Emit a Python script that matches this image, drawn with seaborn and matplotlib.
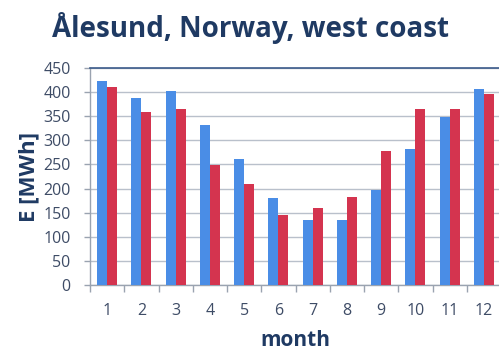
import numpy as np
import pandas as pd
import matplotlib
matplotlib.use("Agg")
import matplotlib.pyplot as plt
import seaborn as sns

months = ["1", "2", "3", "4", "5", "6", "7", "8", "9", "10", "11", "12"]
energy_blue = [424, 387, 403, 331, 261, 180, 135, 135, 197, 281, 349, 406]
energy_red = [410, 358, 366, 249, 209, 145, 159, 183, 278, 366, 365, 397]
yticks = [0, 50, 100, 150, 200, 250, 300, 350, 400, 450]

df = pd.DataFrame({
    "month": months * 2,
    "E": energy_blue + energy_red,
    "series": ["blue"] * 12 + ["red"] * 12,
})

sns.set_theme(style="white")
plt.rcParams["font.family"] = ["Open Sans", "DejaVu Sans"]

navy = "#1F3A63"
tick_col = "#3E4C66"

fig = plt.figure(figsize=(4.99, 3.53), dpi=100)
ax = fig.add_axes([90 / 499, 1 - 285 / 353, 411 / 499, 217 / 353])

sns.barplot(data=df, x="month", y="E", hue="series", order=months,
            palette={"blue": "#4A8DE6", "red": "#D4344F"},
            width=0.58, saturation=1, ax=ax, legend=False, zorder=3,
            linewidth=0, edgecolor="none")

ax.set_xlim(-0.5, 11.5)
ax.set_ylim(0, 450)
ax.set_yticks(yticks)
ax.yaxis.grid(True, color="#B9C0CB", linewidth=1, zorder=0)
ax.set_axisbelow(True)

ax.set_xticks(np.arange(-0.5, 12, 1), minor=True)
ax.tick_params(axis="x", which="major", length=0, pad=13,
               labelsize=11.5, labelcolor=tick_col)
ax.tick_params(axis="x", which="minor", length=5, width=1,
               color="#9AA3B0", direction="out", bottom=True)
ax.tick_params(axis="y", which="major", length=4, width=1,
               color="#9AA3B0", direction="out", left=True, pad=10,
               labelsize=11.5, labelcolor=tick_col)

for side in ["left", "bottom"]:
    ax.spines[side].set_color("#9AA3B0")
    ax.spines[side].set_linewidth(1)
ax.spines["top"].set_color("#3B5A8A")
ax.spines["top"].set_linewidth(1.2)
ax.spines["right"].set_visible(False)

ax.set_xlabel("month", fontsize=15, fontweight="bold", color=navy, labelpad=8)
ax.set_ylabel("E [MWh]", fontsize=16, fontweight="bold", color=navy, labelpad=3)

fig.text(251 / 499, 1 - 28 / 353, "Ålesund, Norway, west coast",
         ha="center", va="center", fontsize=20, fontweight="bold", color=navy)

fig.savefig("out.png", dpi=100)
